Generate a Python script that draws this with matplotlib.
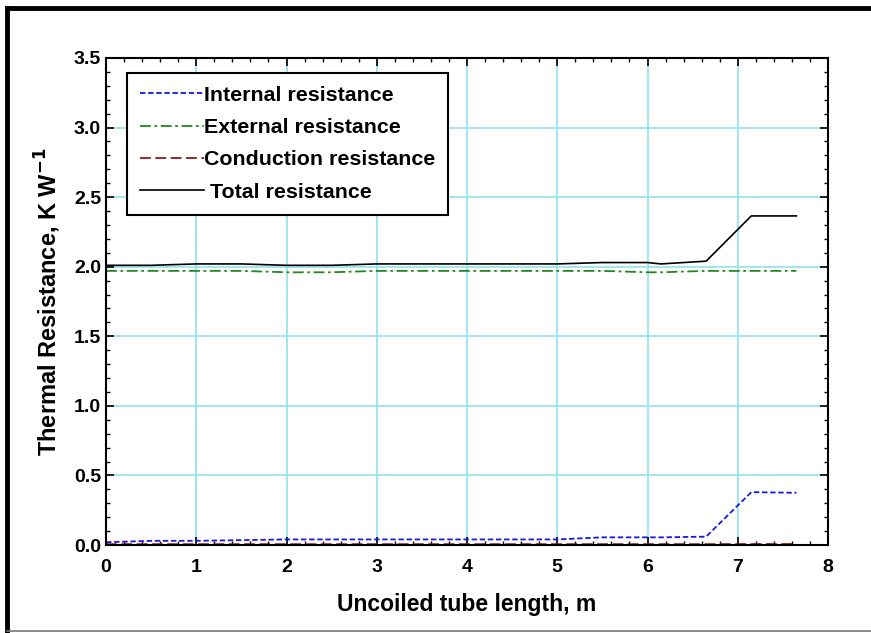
import matplotlib.pyplot as plt
from matplotlib.lines import Line2D
from matplotlib.ticker import MultipleLocator
import numpy as np

plt.rcParams['font.family'] = ['Liberation Sans', 'DejaVu Sans']
plt.rcParams['font.weight'] = 'bold'

# tube length, m
length = [0, 0.5, 1.0, 1.5, 2.0, 2.5, 3.0, 3.5, 4.0, 4.5, 5.0, 5.5, 6.0, 6.15, 6.65, 7.15, 7.65]
# resistances, K/W
r_internal = [0.02, 0.03, 0.03, 0.035, 0.04, 0.04, 0.04, 0.04, 0.04, 0.04, 0.04, 0.055, 0.055, 0.055, 0.06, 0.38, 0.375]
r_external = [1.97, 1.97, 1.97, 1.97, 1.96, 1.96, 1.97, 1.97, 1.97, 1.97, 1.97, 1.97, 1.96, 1.96, 1.97, 1.97, 1.97]
r_conduction = [0.006, 0.006, 0.006, 0.006, 0.006, 0.006, 0.006, 0.006, 0.006, 0.006, 0.006, 0.006, 0.006, 0.006, 0.006, 0.007, 0.007]
r_total = [2.01, 2.01, 2.02, 2.02, 2.01, 2.01, 2.02, 2.02, 2.02, 2.02, 2.02, 2.03, 2.03, 2.02, 2.04, 2.365, 2.365]

fig = plt.figure(figsize=(8.71, 6.33), dpi=100)
ax = fig.add_axes([106/871, 1-545/633, (828-106)/871, (545-58)/633])

ax.plot(length, r_internal, color='#1a1adf', ls=(0, (3, 1.5)), lw=1.3, label='Internal resistance')
ax.plot(length, r_external, color='#1f8a1f', ls=(0, (6, 2, 1.5, 2)), lw=1.3, label='External resistance')
ax.plot(length, r_conduction, color='#8b1a1a', ls=(0, (6, 2.5)), lw=1.3, label='Conduction resistance')
ax.plot(length, r_total, color='black', lw=1.2, label=' Total resistance')

ax.set_xlim(0, 8)
ax.set_ylim(0, 3.5)
ax.xaxis.set_major_locator(MultipleLocator(1))
ax.xaxis.set_minor_locator(MultipleLocator(0.2))
ax.yaxis.set_major_locator(MultipleLocator(0.5))
ax.yaxis.set_minor_locator(MultipleLocator(0.1))
ax.yaxis.set_major_formatter(plt.FormatStrFormatter('%.1f'))
ax.grid(True, which='major', color='#8fe3ea', lw=1.2)
ax.set_axisbelow(True)
ax.tick_params(which='both', direction='in', top=True, right=True, labelsize=14)
ax.tick_params(which='major', length=6, width=1.2)
ax.tick_params(which='minor', length=3, width=1)
ax.tick_params(axis='x', which='major', pad=10)
for s in ax.spines.values():
    s.set_linewidth(1.5)

ax.set_xlabel('Uncoiled tube length, m', fontsize=16.5, fontweight='bold', labelpad=12)
ax.set_ylabel('Thermal Resistance, K W$^{\\mathbf{-1}}$', fontsize=17, fontweight='bold', labelpad=8)

leg = ax.legend(loc='upper left', bbox_to_anchor=(0.029, 0.969), borderaxespad=0, fontsize=15.4,
                handlelength=3.0, handletextpad=0.0, labelspacing=0.62, borderpad=0.6, fancybox=False,
                edgecolor='black', framealpha=1)
leg.get_frame().set_linewidth(1.5)

# page frame
fig.add_artist(Line2D([7/871, 1], [1-8/633, 1-8/633], color='black', lw=3.5))
fig.add_artist(Line2D([7/871, 7/871], [1-8/633, 1-631/633], color='black', lw=3.5))
fig.add_artist(Line2D([7/871, 1], [1-631/633, 1-631/633], color='#777777', lw=1.2))

fig.savefig('out.png', dpi=100)
